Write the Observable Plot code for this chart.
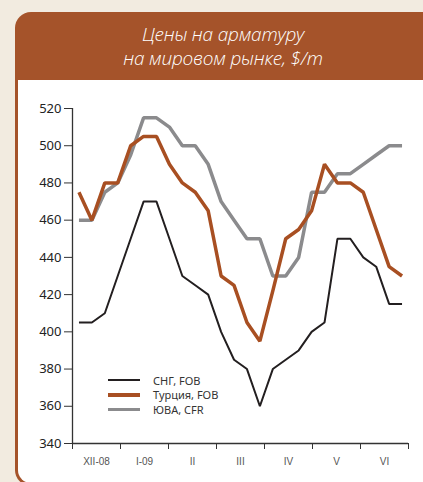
<!DOCTYPE html>
<html>
<head>
<meta charset="utf-8">
<script src="https://cdn.jsdelivr.net/npm/d3@7"></script>
<script src="https://cdn.jsdelivr.net/npm/@observablehq/plot@0.6"></script>
<style>
  html, body { margin: 0; padding: 0; background: #f2ebe0; }
  #page { position: relative; width: 423px; height: 482px; overflow: hidden; background: #f2ebe0; font-family: "Noto Sans", sans-serif; }
  #box { position: absolute; left: 15px; top: 12px; width: 440px; height: 474px; background: #a5532a; border-radius: 16px; }
  #title { position: absolute; left: 0; top: 0; width: 416px; height: 68px; color: #fff; font-family: "Open Sans", sans-serif; font-style: italic; font-weight: 300; font-size: 19px; line-height: 24px; text-align: center; padding-top: 10px; box-sizing: border-box; letter-spacing: -0.2px; }
  #panel { position: absolute; left: 3px; top: 68px; width: 437px; height: 403px; background: #fff; border-bottom-left-radius: 13px; overflow: hidden; }
  #legend { position: absolute; left: 90px; top: 293px; font-family: "Noto Sans", sans-serif; font-size: 11px; color: #333; }
  .item { display: flex; align-items: center; height: 14.5px; }
  .sw { width: 32px; margin-right: 13px; }
  svg text { font-family: "Noto Sans", sans-serif; }
  svg g.xlab text { font-family: "Liberation Sans", Arial, sans-serif; }
</style>
</head>
<body>
<div id="page">
  <div id="box">
    <div id="title">Цены на арматуру<br>на мировом рынке, $/m</div>
    <div id="panel">
      <div id="chart"></div>
      <div id="legend"></div>
    </div>
  </div>
</div>
<script>
// Month labels (x axis)
const months = ["XII-08", "I-09", "II", "III", "IV", "V", "VI"];
// Weekly prices, $/t
const cis = [405, 405, 410, 430, 450, 470, 470, 450, 430, 425, 420, 400, 385, 380, 360, 380, 385, 390, 400, 405, 450, 450, 440, 435, 415, 415];
const turkey = [475, 460, 480, 480, 500, 505, 505, 490, 480, 475, 465, 430, 425, 405, 395, 422, 450, 455, 465, 490, 480, 480, 475, 455, 435, 430];
const sea = [460, 460, 475, 480, 495, 515, 515, 510, 500, 500, 490, 470, 460, 450, 450, 430, 430, 440, 475, 475, 485, 485, 490, 495, 500, 500];
const seriesNames = ["СНГ, FOB", "Турция, FOB", "ЮВА, CFR"];
const yTicks = [340, 360, 380, 400, 420, 440, 460, 480, 500, 520];

const colors = { "СНГ, FOB": "#231f20", "Турция, FOB": "#a84f22", "ЮВА, CFR": "#8b8b8d" };
const widths = { "СНГ, FOB": 2, "Турция, FOB": 3.5, "ЮВА, CFR": 3.5 };

const n = cis.length;
const rows = [];
[[seriesNames[2], sea], [seriesNames[1], turkey], [seriesNames[0], cis]].forEach(([name, vals]) => {
  vals.forEach((v, i) => rows.push({ series: name, week: i + 0.5, value: v }));
});
const monthSpan = n / months.length;
const boundaries = d3.range(months.length + 1).map(k => k * monthSpan);
const centers = months.map((m, k) => (k + 0.5) * monthSpan);

const marks = [
  Plot.ruleX([0], { y1: 340, y2: 520, stroke: "#333", strokeWidth: 1.3 }),
  Plot.ruleY([340], { stroke: "#333", strokeWidth: 1.3 }),
  Plot.axisY({ ticks: yTicks, tickSize: 8, tickPadding: 3, fontSize: 13, fontFamily: "Noto Sans", stroke: "#333", color: "#222", label: null }),
  Plot.axisX({ ticks: boundaries, tickSize: 6, tickFormat: () => "", stroke: "#333", label: null }),
  Plot.axisX({ ticks: centers, tickSize: 0, tickPadding: 14, tickFormat: (d, i) => months[i], fontSize: 10, fontFamily: "Liberation Sans", color: "#555", label: null, className: "xlab" }),
];
for (const name of [seriesNames[2], seriesNames[1], seriesNames[0]]) {
  marks.push(Plot.line(rows.filter(r => r.series === name), {
    x: "week", y: "value", stroke: colors[name], strokeWidth: widths[name], strokeLinejoin: "miter", strokeLinecap: "butt"
  }));
}

const chart = Plot.plot({
  width: 405,
  height: 402,
  marginLeft: 54,
  marginRight: 15,
  marginTop: 28,
  marginBottom: 39,
  x: { domain: [0, n], axis: null },
  y: { domain: [340, 520], axis: null },
  style: { background: "transparent", fontFamily: "Noto Sans, sans-serif" },
  marks
});
document.getElementById("chart").appendChild(chart);

const legend = document.getElementById("legend");
seriesNames.forEach(name => {
  const item = document.createElement("div");
  item.className = "item";
  const sw = document.createElement("div");
  sw.className = "sw";
  sw.style.height = widths[name] + "px";
  sw.style.background = colors[name];
  const t = document.createElement("span");
  t.textContent = name;
  item.appendChild(sw);
  item.appendChild(t);
  legend.appendChild(item);
});
</script>
</body>
</html>
